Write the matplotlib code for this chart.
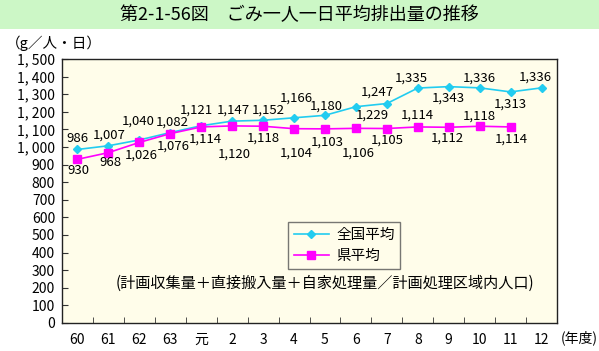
import matplotlib
matplotlib.use('Agg')
import matplotlib.pyplot as plt
from matplotlib.patches import Rectangle

plt.rcParams['font.family'] = ['Noto Sans CJK JP', 'DejaVu Sans']

# data
years = ['60', '61', '62', '63', '元', '2', '3', '4', '5', '6', '7', '8', '9', '10', '11', '12']
national = [986, 1007, 1040, 1082, 1121, 1147, 1152, 1166, 1180, 1229, 1247, 1335, 1343, 1336, 1313, 1336]
prefecture = [930, 968, 1026, 1076, 1114, 1120, 1118, 1104, 1103, 1106, 1105, 1114, 1112, 1118, 1114]
yticks = list(range(0, 1501, 100))

# label offsets in pixels (dx, dy)
nat_off = [(0, 11), (1, 11), (-1, 19), (2, 10), (-5, 16), (1, 11), (5, 10), (2, 20),
           (1, 9), (16, -8), (-10, 11), (-6, 10), (0, -12), (0, 10), (0, -12), (-6, 11)]
pref_off = [(1, -11), (2, -10), (2, -13), (3, -13), (4, -12), (2, -28), (0, -12), (2, -24),
            (2, -13), (2, -25), (0, -12), (0, 12), (-1, -11), (0, 10), (1, -12)]

cyan = '#22ccf0'
magenta = '#ff00ff'

fig = plt.figure(figsize=(5.99, 3.51), dpi=100)
fig.patch.set_facecolor('white')

# title band
fig.patches.append(Rectangle((0, 1 - 29 / 351), 1, 29 / 351, transform=fig.transFigure,
                             facecolor='#ccf7c6', edgecolor='none', zorder=0))
fig.text(0.5, 1 - 15 / 351, '第2-1-56図　ごみ一人一日平均排出量の推移', ha='center', va='center',
         fontsize=13)
fig.text(6 / 599, 1 - 43 / 351, '（g／人・日）', ha='left', va='center', fontsize=10.5)

ax = fig.add_axes([62 / 599, 1 - 323 / 351, 495 / 599, 264 / 351])
ax.set_facecolor('#fffdea')

x = list(range(len(years)))
ax.plot(x, national, color=cyan, marker='D', markersize=4.5, linewidth=1.2, label='全国平均')
ax.plot(x[:len(prefecture)], prefecture, color=magenta, marker='s', markersize=6,
        linewidth=1.2, label='県平均')

for i, v in enumerate(national):
    ax.annotate(f'{v:,}', (i, v), xytext=nat_off[i], textcoords='offset pixels',
                ha='center', va='center', fontsize=9.5)
for i, v in enumerate(prefecture):
    ax.annotate(f'{v:,}', (i, v), xytext=pref_off[i], textcoords='offset pixels',
                ha='center', va='center', fontsize=9.5)

ax.set_xlim(-0.5, len(years) - 0.5)
ax.set_ylim(0, 1500)
ax.set_yticks(yticks)
ax.set_yticklabels([f'{t:,}'.replace(',', ', ') for t in yticks], fontsize=10)
ax.set_xticks(x)
ax.set_xticklabels(years, fontsize=10)
ax.tick_params(axis='x', length=0, pad=7)
ax.set_xticks([i + 0.5 for i in range(len(years) - 1)], minor=True)
ax.tick_params(axis='x', which='minor', direction='in', length=4, color='#333333')
ax.tick_params(axis='y', direction='in', length=4, color='#333333', pad=5)
for s in ax.spines.values():
    s.set_color('#222222')
    s.set_linewidth(1.0)

fig.text(598 / 599, 1 - 338 / 351, '(年度)', ha='right', va='center', fontsize=10)

leg = ax.legend(loc='upper left', bbox_to_anchor=((288 - 62) / 495, (323 - 222) / 264),
                frameon=True, fancybox=False, fontsize=10.5, handlelength=2.4,
                borderpad=0.4, labelspacing=0.5, handletextpad=0.5, borderaxespad=0)
leg.get_frame().set_edgecolor('#555555')
leg.get_frame().set_facecolor('#fffdea')
leg.get_frame().set_linewidth(1.0)

ax.text((116 - 62) / 495, (323 - 283) / 264,
        '(計画収集量＋直接搬入量＋自家処理量／計画処理区域内人口)',
        transform=ax.transAxes, ha='left', va='center', fontsize=10.9)

fig.savefig('out.png', dpi=100)
